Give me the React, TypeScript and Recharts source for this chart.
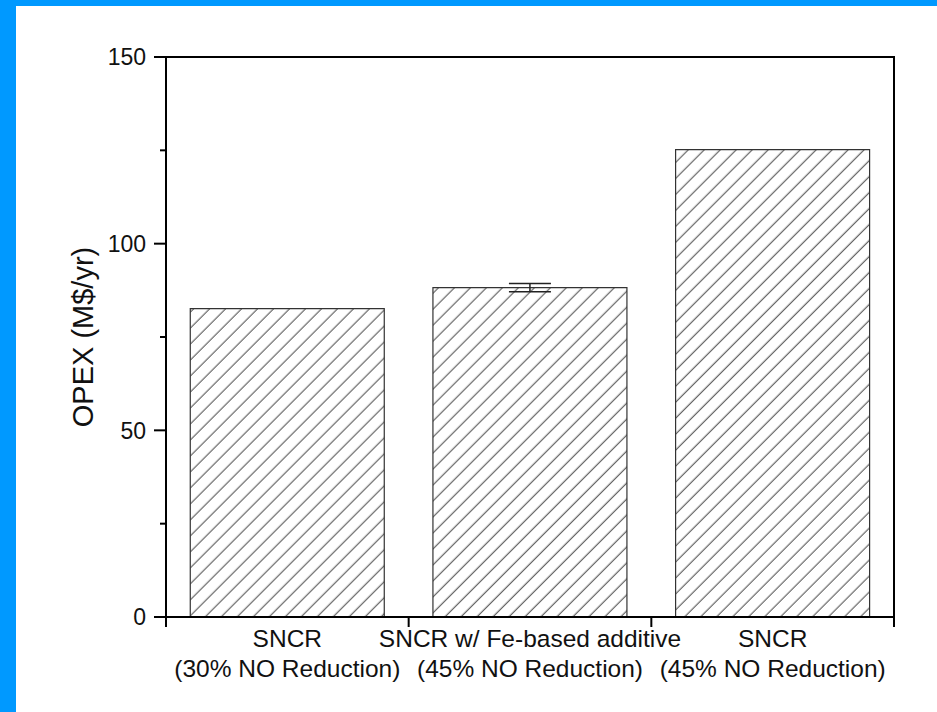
import React from "react";
import { BarChart, Bar, XAxis, YAxis, ErrorBar, Label, ReferenceArea } from "recharts";

const categoryTop = ["SNCR", "SNCR w/ Fe-based additive", "SNCR"];
const categoryBottom = ["(30% NO Reduction)", "(45% NO Reduction)", "(45% NO Reduction)"];
const opex = [82.6, 88.2, 125.2];
const opexErr = [null, 1.1, null];
const yTicks = [0, 25, 50, 75, 100, 125, 150];

const data = categoryTop.map((name, i) => ({
  name,
  sub: categoryBottom[i],
  opex: opex[i],
  err: opexErr[i],
}));

const W = 937;
const H = 712;
const margin = { top: 57, right: 43, left: 66, bottom: 0 };
const yAxisW = 100;
const plotW = W - margin.left - yAxisW - margin.right;
const band = plotW / categoryTop.length;
const font = "'Liberation Sans', Arial, sans-serif";

function YTick(props: any) {
  const { x, y, payload } = props;
  const major = payload.value % 50 === 0;
  return (
    <g>
      <line x1={x} x2={x - (major ? 12 : 6)} y1={y} y2={y} stroke="#000" strokeWidth={2} />
      {major && (
        <text x={x - 20} y={y} dy="0.36em" textAnchor="end" fontSize={23} fontFamily={font} fill="#111">
          {payload.value}
        </text>
      )}
    </g>
  );
}

function XTick(props: any) {
  const { x, y, index } = props;
  const d = data[index];
  return (
    <g>
      <line x1={x + band / 2} x2={x + band / 2} y1={y} y2={y + 10} stroke="#000" strokeWidth={2} />
      {index === 0 && (
        <line x1={x - band / 2} x2={x - band / 2} y1={y} y2={y + 10} stroke="#000" strokeWidth={2} />
      )}
      <text x={x} y={y + 30} textAnchor="middle" fontSize={24.5} fontFamily={font} fill="#111">
        {d.name}
      </text>
      <text x={x} y={y + 60} textAnchor="middle" fontSize={24.5} fontFamily={font} fill="#111">
        {d.sub}
      </text>
    </g>
  );
}

export default function App() {
  return (
    <div style={{ position: "absolute", left: 0, top: 0, width: W, height: H, background: "#fff" }}>
      <div style={{ position: "absolute", left: 0, top: 0, width: W, height: 6, background: "#0099ff" }} />
      <div style={{ position: "absolute", left: 0, top: 0, width: 16, height: H, background: "#0099ff" }} />
      <div style={{ position: "absolute", left: 0, top: 0 }}>
        <BarChart width={W} height={H} data={data} margin={margin} barCategoryGap="10%">
          <defs>
            <pattern id="hatch" patternUnits="userSpaceOnUse" width={11.3} height={11.3} patternTransform="rotate(45)">
              <line x1={5} y1={0} x2={5} y2={11.3} stroke="#555" strokeWidth={1.1} />
            </pattern>
          </defs>
          <XAxis
            dataKey="name"
            height={95}
            tickSize={0}
            tickMargin={0}
            tickLine={false}
            interval={0}
            tick={<XTick />}
            axisLine={{ stroke: "#000", strokeWidth: 2 }}
          />
          <YAxis
            width={yAxisW}
            domain={[0, 150]}
            ticks={yTicks}
            interval={0}
            tickSize={0}
            tickMargin={0}
            tickLine={false}
            tick={<YTick />}
            axisLine={{ stroke: "#000", strokeWidth: 2 }}
          >
            <Label
              content={(p: any) => {
                const vb = p.viewBox;
                const cx = vb.x + 17;
                const cy = vb.y + vb.height / 2;
                return (
                  <text
                    x={cx}
                    y={cy}
                    transform={`rotate(-90, ${cx}, ${cy})`}
                    textAnchor="middle"
                    dy="0.36em"
                    fontSize={29}
                    fontFamily={font}
                    fill="#111"
                  >
                    OPEX (M$/yr)
                  </text>
                );
              }}
            />
          </YAxis>
          <Bar dataKey="opex" fill="url(#hatch)" stroke="#333" strokeWidth={1.2} isAnimationActive={false}>
            <ErrorBar dataKey="err" width={21} stroke="#222" strokeWidth={1.5} direction="y" />
          </Bar>
          <ReferenceArea y1={0} y2={150} fill="none" fillOpacity={0} stroke="#000" strokeWidth={2} ifOverflow="visible" />
        </BarChart>
      </div>
    </div>
  );
}
